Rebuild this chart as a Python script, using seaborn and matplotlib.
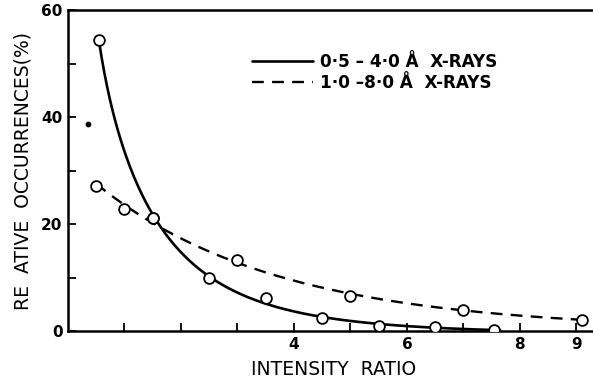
import numpy as np
import pandas as pd
import matplotlib
matplotlib.use("Agg")
import matplotlib.pyplot as plt
import seaborn as sns

# Data
solid_x = [0.55, 1.5, 2.5, 3.5, 4.5, 5.5, 6.5, 7.55]
solid_y = [54.4, 21.1, 9.9, 6.2, 2.5, 1.0, 0.7, 0.2]
dashed_x = [0.5, 1.0, 1.5, 3.0, 5.0, 7.0, 9.1]
dashed_y = [27.1, 22.8, 21.1, 13.3, 6.6, 3.9, 2.1]
stray_x = [0.36]
stray_y = [38.7]
legend_labels = ["0·5 – 4·0 Å  X-RAYS", "1·0 –8·0 Å  X-RAYS"]
xtick_vals = [1, 2, 3, 4, 5, 6, 7, 8, 9]
xtick_labels = ["", "", "", "4", "", "6", "", "8", "9"]
ytick_vals = [0, 10, 20, 30, 40, 50, 60]
ytick_labels = ["0", "", "20", "", "40", "", "60"]


def smooth_loglog(x, y, xn, deg=3, off=0.5):
    """Least-squares smooth curve through the points (log-log space)."""
    lx = np.log(np.asarray(x, float))
    ly = np.log(np.asarray(y, float) + off)
    c = np.polyfit(lx, ly, deg)
    return np.exp(np.polyval(c, np.log(xn))) - off


def smooth_semilog(x, y, xn, deg=2):
    """Least-squares smooth curve through the points (semi-log space)."""
    c = np.polyfit(np.asarray(x, float), np.log(np.asarray(y, float)), deg)
    return np.exp(np.polyval(c, xn))


sns.set_theme(style="ticks")
plt.rcParams['font.family'] = ['DejaVu Sans']
plt.rcParams['text.color'] = 'black'
plt.rcParams['axes.labelcolor'] = 'black'
plt.rcParams['xtick.color'] = 'black'
plt.rcParams['ytick.color'] = 'black'

fig = plt.figure(figsize=(5.93, 3.80), dpi=100)
ax = fig.add_axes([68 / 593, 49 / 380, 1 - 68 / 593 + 0.01, (331 - 10) / 380])

xs = np.linspace(solid_x[0], solid_x[-1] + 0.1, 300)
xd = np.linspace(dashed_x[0], dashed_x[-1], 300)
sdf = pd.DataFrame({"x": xs, "y": np.clip(smooth_loglog(solid_x, solid_y, xs), 0.05, None)})
ddf = pd.DataFrame({"x": xd, "y": smooth_semilog(dashed_x, dashed_y, xd)})

sns.lineplot(data=sdf, x="x", y="y", ax=ax, color="black", lw=1.9,
             label=legend_labels[0])
sns.lineplot(data=ddf, x="x", y="y", ax=ax, color="black", lw=1.7,
             linestyle=(0, (5, 3.5)), label=legend_labels[1])
ax.scatter(solid_x, solid_y, s=60, facecolor="white", edgecolor="black",
           linewidth=1.3, zorder=5)
ax.scatter(dashed_x, dashed_y, s=60, facecolor="white", edgecolor="black",
           linewidth=1.3, zorder=5)
ax.scatter(stray_x, stray_y, s=10, color="black", zorder=5)

ax.set_xlim(0, 9.4)
ax.set_ylim(0, 60)
ax.set_xticks(xtick_vals)
ax.set_xticklabels(xtick_labels, fontsize=11, fontweight="bold")
ax.set_yticks(ytick_vals)
ax.set_yticklabels(ytick_labels, fontsize=11, fontweight="bold")
ax.tick_params(direction="in", length=6, width=1.3, color="black",
               labelcolor="black", pad=4)
ax.set_xlabel("INTENSITY  RATIO", fontsize=13.5, labelpad=6, color="black")
ax.set_ylabel("RE  ATIVE  OCCURRENCES(%)", fontsize=13.5, labelpad=6,
              color="black")

for s in ["left", "bottom", "top"]:
    ax.spines[s].set_linewidth(1.8)
    ax.spines[s].set_color("black")
ax.spines["right"].set_visible(False)

leg = ax.legend(loc="upper left", bbox_to_anchor=(0.318, 0.915), frameon=False,
                handlelength=3.6, handletextpad=0.4, labelspacing=0.2,
                prop={"weight": "bold", "size": 12.2})
for t in leg.get_texts():
    t.set_color("black")

fig.savefig("out.png", dpi=100)
